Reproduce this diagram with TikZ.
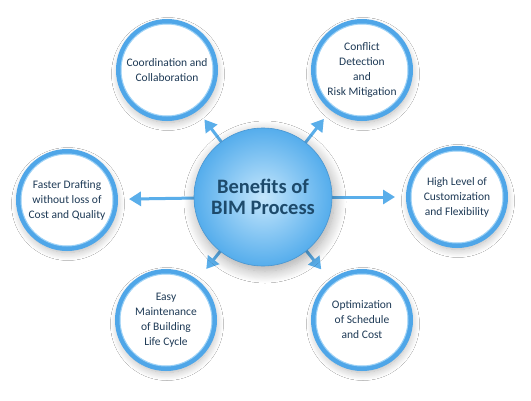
\documentclass[tikz,border=0pt]{standalone}
\usepackage{fontspec}
\setmainfont{Carlito}
\usetikzlibrary{arrows.meta,shadows.blur}
\definecolor{ringblue}{HTML}{4FA6E8}
\definecolor{ringlight}{HTML}{9ED2F6}
\definecolor{txtnavy}{HTML}{1E3A56}
\definecolor{ctrtxt}{HTML}{1D4A6B}
\definecolor{arrblue}{HTML}{5AAEEA}
\definecolor{ctrlight}{HTML}{C4E6FC}
\definecolor{ctrdark}{HTML}{55ADEC}
\tikzset{
  sat/.style={circle, minimum size=97pt, inner sep=0pt, fill=white,
    draw=ringblue, line width=5pt, text=txtnavy, align=center,
    font=\fontsize{11.5}{15}\selectfont,
    blur shadow={shadow blur steps=12, shadow xshift=1pt, shadow yshift=-4pt,
      shadow blur radius=8pt, shadow opacity=30}},
  inring/.style={draw=ringlight, line width=1pt},
  ctrnode/.style={circle, minimum size=138pt, inner sep=0pt,
    inner color=ctrlight, outer color=ctrdark, draw=ringblue!90!black, line width=0.6pt,
    text=ctrtxt, align=center, font=\bfseries\fontsize{20.5}{21}\selectfont,
    blur shadow={shadow blur steps=14, shadow xshift=2pt, shadow yshift=-5pt,
      shadow blur radius=12pt, shadow opacity=35}},
  arr/.style={draw=arrblue, line width=3pt, -{Triangle[length=12pt,width=14pt]},
    shorten >=11pt}
}
\begin{document}
\begin{tikzpicture}[x=1pt,y=-1pt]
\useasboundingbox[fill=white] (0,0) rectangle (531,400);
\node[sat] (coord) at (167,70) {Coordination and\\Collaboration};
\node[sat] (confl) at (362,70) {Conflict\\Detection\\and\\Risk Mitigation};
\node[sat] (fast) at (67,200) {Faster Drafting\\without loss of\\Cost and Quality};
\node[sat] (high) at (457,197) {High Level of\\Customization\\and Flexibility};
\node[sat] (easy) at (166,320) {Easy\\Maintenance\\of Building\\Life Cycle};
\node[sat] (optim) at (362,320) {Optimization\\of Schedule\\and Cost};
\foreach \n in {coord,confl,fast,high,easy,optim}{
  \draw[inring] (\n.center) circle (46pt);
}
\coordinate (cc) at (263,197);
\draw[arr] (cc) -- (coord);
\draw[arr] (cc) -- (confl);
\draw[arr] (cc) -- (fast);
\draw[arr] (cc) -- (high);
\draw[arr, shorten >=14pt] (cc) -- (easy);
\draw[arr, shorten >=14pt] (cc) -- (optim);
\node[ctrnode] (ctr) at (cc) {Benefits of\\BIM Process};
\end{tikzpicture}
\end{document}
